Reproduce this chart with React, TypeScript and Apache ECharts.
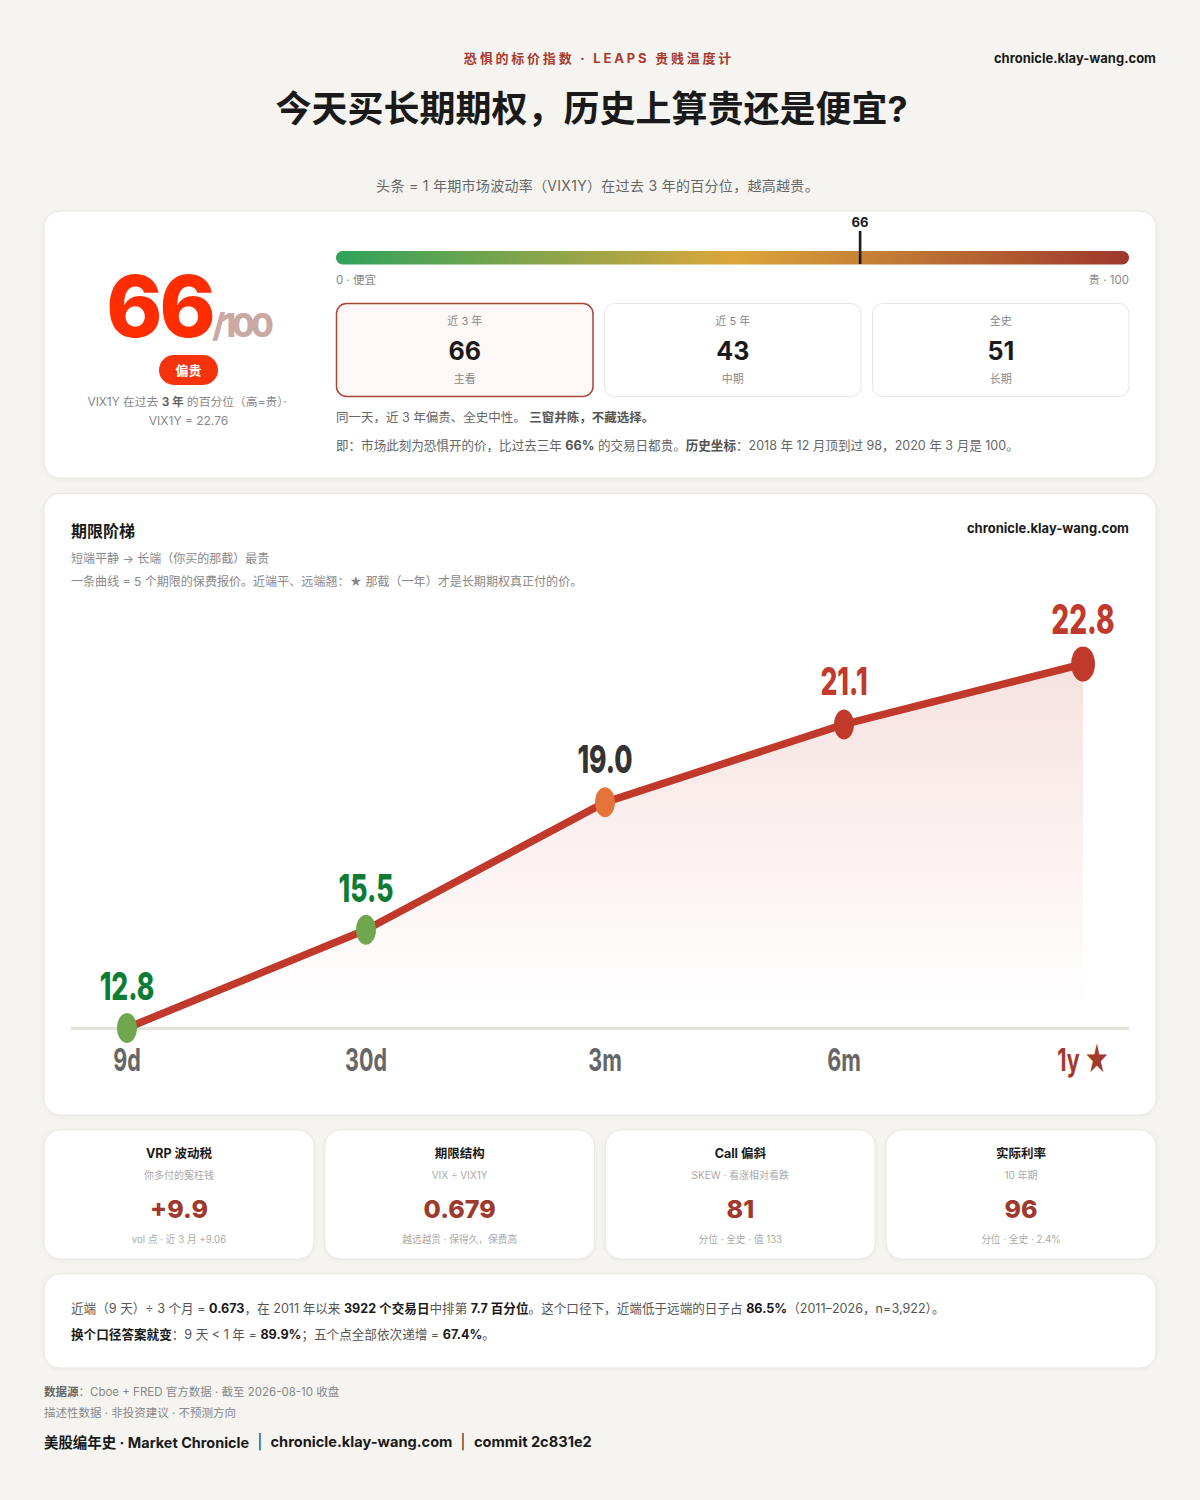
import React, { useEffect, useRef } from 'react';
import * as echarts from 'echarts';

const FONT = 'Inter, "Noto Sans CJK SC", sans-serif';

const tenors = ['9d', '30d', '3m', '6m', '1y ★'];
const quotes = [12.8, 15.5, 19.0, 21.14, 22.8];
const dotColors = ['#6fa64e', '#6fa64e', '#e5733a', '#c0392b', '#c0392b'];
const quoteColors = ['#0e7c32', '#0e7c32', '#333333', '#c0392b', '#c0392b'];
const tenorColors = ['#666666', '#666666', '#666666', '#666666', '#a33a2c'];

const windowNames = ['近 3 年', '近 5 年', '全史'];
const windowValues = ['66', '43', '51'];
const windowNotes = ['主看', '中期', '长期'];

const kpiTitles = ['VRP 波动税', '期限结构', 'Call 偏斜', '实际利率'];
const kpiSubs = ['你多付的冤枉钱', 'VIX ÷ VIX1Y', 'SKEW · 看涨相对看跌', '10 年期'];
const kpiValues = ['+9.9', '0.679', '81', '96'];
const kpiFoots = ['vol 点 · 近 3 月 +9.06', '越远越贵 · 保得久，保费高', '分位 · 全史 · 值 133', '分位 · 全史 · 2.4%'];

type TextOpts = { weight?: number; align?: string; rich?: any; z?: number };

const txt = (x: number, y: number, text: string, size: number, fill: string, opts: TextOpts = {}) => ({
  type: 'text',
  x,
  y,
  silent: true,
  z: opts.z ?? 5,
  style: {
    text,
    fontSize: size,
    fontWeight: opts.weight ?? 400,
    fontFamily: FONT,
    fill,
    textAlign: opts.align ?? 'center',
    textVerticalAlign: 'middle',
    rich: opts.rich,
  },
});

const card = (x: number, y: number, width: number, height: number) => ({
  type: 'rect',
  silent: true,
  z: 0,
  shape: { x, y, width, height, r: 16 },
  style: {
    fill: '#ffffff',
    stroke: '#e9e7e2',
    lineWidth: 1,
    shadowBlur: 4,
    shadowOffsetY: 1,
    shadowColor: 'rgba(0,0,0,0.05)',
  },
});

const bold = (size: number, fill: string) => ({
  b: { fontSize: size, fontWeight: 700, fontFamily: FONT, fill },
});

const buildGraphics = () => {
  const els: any[] = [
    // header
    txt(599, 58, '恐惧的标价指数 · LEAPS 贵贱温度计', 13, '#a93a2e', { weight: 700 }),
    txt(1156, 58, 'chronicle.klay-wang.com', 13, '#1a1a1a', { weight: 700, align: 'right' }),
    txt(591.5, 109, '今天买长期期权，历史上算贵还是便宜?', 36, '#1a1a1a', { weight: 700 }),
    txt(597.5, 185, '头条 = 1 年期市场波动率（VIX1Y）在过去 3 年的百分位，越高越贵。', 14, '#666666'),

    card(44, 211, 1112, 267),
    card(44, 493.5, 1112, 621.5),
    card(44, 1274, 1112, 94),

    // score block
    txt(159.5, 306, '66', 85, '#ff2d00', { weight: 800 }),
    txt(241, 324.5, '/100', 33, '#c9a9a1', { weight: 800 }),
    {
      type: 'rect',
      silent: true,
      z: 1,
      shape: { x: 159, y: 355, width: 59, height: 30, r: 15 },
      style: { fill: '#f5330c' },
    },
    txt(188.5, 369.5, '偏贵', 13, '#ffffff', { weight: 700 }),
    txt(188.5, 402, 'VIX1Y 在过去 {b|3 年}的百分位（高=贵）·', 11.8, '#888888', { rich: bold(11.8, '#666666') }),
    txt(188.5, 420, 'VIX1Y = 22.76', 12, '#888888'),

    // thermometer
    {
      type: 'rect',
      silent: true,
      z: 1,
      shape: { x: 336, y: 251, width: 793, height: 13.5, r: 6.5 },
      style: {
        fill: new echarts.graphic.LinearGradient(0, 0, 1, 0, [
          { offset: 0, color: '#2fa35b' },
          { offset: 0.5, color: '#dca63b' },
          { offset: 1, color: '#9c382c' },
        ]),
      },
    },
    {
      type: 'rect',
      silent: true,
      z: 2,
      shape: { x: 858.8, y: 231, width: 2.6, height: 33 },
      style: { fill: '#1a1a1a' },
    },
    txt(860, 222, '66', 13, '#1a1a1a', { weight: 700 }),
    txt(336, 280, '0 · 便宜', 11.5, '#888888', { align: 'left' }),
    txt(1129, 280, '贵 · 100', 11.5, '#888888', { align: 'right' }),

    // paragraphs under the windows
    txt(336, 417, '同一天，近 3 年偏贵、全史中性。 {b|三窗并陈，不藏选择。}', 12.5, '#666666', {
      align: 'left',
      rich: bold(12.5, '#555555'),
    }),
    txt(
      336,
      445,
      '即：市场此刻为恐惧开的价，比过去三年 {b|66%} 的交易日都贵。{b|历史坐标}：2018 年 12 月顶到过 98，2020 年 3 月是 100。',
      12.55,
      '#666666',
      { align: 'left', rich: bold(12.55, '#555555') },
    ),

    // ladder heading
    txt(71, 531, '期限阶梯', 16, '#1a1a1a', { weight: 700, align: 'left' }),
    txt(1129, 528, 'chronicle.klay-wang.com', 13, '#1a1a1a', { weight: 700, align: 'right' }),
    txt(71, 558, '短端平静 → 长端（你买的那截）最贵', 12, '#888888', { align: 'left' }),
    txt(71, 581, '一条曲线 = 5 个期限的保费报价。近端平、远端翘：★ 那截（一年）才是长期期权真正付的价。', 12.05, '#888888', {
      align: 'left',
    }),
    {
      type: 'rect',
      silent: true,
      z: 1,
      shape: { x: 71, y: 1027, width: 1058, height: 3 },
      style: { fill: '#e4e1d6' },
    },

    // note card
    txt(
      71,
      1308,
      '近端（9 天）÷ 3 个月 = {b|0.673}，在 2011 年以来 {b|3922 个交易日}中排第 {b|7.7 百分位}。这个口径下，近端低于远端的日子占 {b|86.5%}（2011–2026，n=3,922）。',
      12.6,
      '#555555',
      { align: 'left', rich: bold(12.6, '#1a1a1a') },
    ),
    txt(71, 1334, '{b|换个口径答案就变}：9 天 < 1 年 = {b|89.9%}；五个点全部依次递增 = {b|67.4%}。', 12.6, '#555555', {
      align: 'left',
      rich: bold(12.6, '#1a1a1a'),
    }),

    // footer
    txt(44, 1392, '{b|数据源}：Cboe + FRED 官方数据 · 截至 2026-08-10 收盘', 11.5, '#888888', {
      align: 'left',
      rich: bold(11.5, '#666666'),
    }),
    txt(44, 1413, '描述性数据 · 非投资建议 · 不预测方向', 11.5, '#888888', { align: 'left' }),
    txt(44, 1442, '美股编年史 · Market Chronicle', 14.45, '#1a1a1a', { weight: 700, align: 'left' }),
    txt(260, 1441, '|', 14.5, '#1a1a1a'),
    txt(270.5, 1442, 'chronicle.klay-wang.com', 14.6, '#1a1a1a', { weight: 700, align: 'left' }),
    txt(463, 1441, '|', 14.5, '#1a1a1a'),
    txt(474, 1442, 'commit 2c831e2', 14.6, '#1a1a1a', { weight: 700, align: 'left' }),
  ];

  windowNames.forEach((name, i) => {
    const x = 336.5 + i * 268;
    const main = i === 0;
    els.push({
      type: 'rect',
      silent: true,
      z: 1,
      shape: { x, y: 303.5, width: 256.5, height: 93, r: 10 },
      style: {
        fill: main ? '#fdf8f5' : '#ffffff',
        stroke: main ? '#a8463a' : '#e8e6e1',
        lineWidth: main ? 1.5 : 1,
      },
    });
    els.push(txt(x + 128.3, 321, name, 11, '#888888'));
    els.push(txt(x + 128.3, 351, windowValues[i], 25, '#1a1a1a', { weight: 700 }));
    els.push(txt(x + 128.3, 379, windowNotes[i], 11, '#888888'));
  });

  kpiTitles.forEach((title, i) => {
    const x = 44 + i * 280.67;
    els.push(card(x, 1130, 270, 129));
    const cx = x + 135;
    els.push(txt(cx, 1153, title, 12.5, '#1a1a1a', { weight: 700 }));
    els.push(txt(cx, 1175, kpiSubs[i], 10, '#aaaaaa'));
    els.push(txt(cx, 1209, kpiValues[i], 25, '#9e3a2c', { weight: 800 }));
    els.push(txt(cx, 1239, kpiFoots[i], 9.7, '#aaaaaa'));
  });

  return els;
};

// tall, squeezed text: the original drawing is stretched vertically
const STRETCH = 1.46;
const quoteGaps = [42, 42, 43, 43, 45];

const App: React.FC = () => {
  const chartRef = useRef<HTMLDivElement>(null);

  useEffect(() => {
    document.body.style.margin = '0';
    const chart = echarts.init(chartRef.current as HTMLDivElement, undefined, { renderer: 'svg' });

    const option: any = {
      animation: false,
      backgroundColor: '#f5f4f0',
      grid: { left: 127, width: 956, top: 664, height: 364 },
      xAxis: { type: 'category', data: tenors, boundaryGap: false, show: false },
      yAxis: { type: 'value', min: 12.8, max: 22.8, show: false },
      graphic: { elements: buildGraphics() },
      series: [
        {
          type: 'line',
          z: 3,
          silent: true,
          clip: false,
          data: quotes.map((value, i) => ({ value, itemStyle: { color: dotColors[i] } })),
          showAllSymbol: true,
          symbol: 'circle',
          symbolSize: (_v: number, p: any) => (p.dataIndex === quotes.length - 1 ? [24, 35] : [20, 30]),
          lineStyle: { color: '#c0392b', width: 7.5 },
          areaStyle: {
            color: {
              type: 'linear',
              x: 0,
              y: 0,
              x2: 0,
              y2: 1,
              colorStops: [
                { offset: 0, color: 'rgba(192,57,43,0.21)' },
                { offset: 0.95, color: 'rgba(192,57,43,0)' },
              ],
            },
          },
          label: { show: false },
        },
        {
          type: 'custom',
          z: 4,
          silent: true,
          clip: false,
          data: quotes.map((q, i) => [i, q]),
          renderItem: (params: any, api: any) => {
            const i = params.dataIndex;
            const p = api.coord([api.value(0), api.value(1)]);
            return {
              type: 'text',
              x: p[0],
              y: p[1] - quoteGaps[i],
              scaleY: STRETCH,
              style: {
                text: quotes[i].toFixed(1),
                fontSize: i === quotes.length - 1 ? 28 : 26.5,
                fontWeight: 800,
                fontFamily: FONT,
                fill: quoteColors[i],
                textAlign: 'center',
                textVerticalAlign: 'middle',
              },
            };
          },
        },
        {
          type: 'custom',
          z: 4,
          silent: true,
          clip: false,
          data: tenors.map((_t, i) => [i, 12.8]),
          renderItem: (params: any, api: any) => {
            const i = params.dataIndex;
            const p = api.coord([api.value(0), api.value(1)]);
            return {
              type: 'text',
              x: p[0],
              y: p[1] + 31,
              scaleY: STRETCH,
              style: {
                text: tenors[i].replace('★', '{s|★}'),
                fontSize: 21.5,
                fontWeight: 700,
                fontFamily: FONT,
                fill: tenorColors[i],
                textAlign: 'center',
                textVerticalAlign: 'middle',
                rich: {
                  s: { fontSize: 27, fontFamily: '"DejaVu Sans"', fontWeight: 700, fill: tenorColors[i] },
                },
              },
            };
          },
        },
      ],
    };
    chart.setOption(option);

    // zrender has no letter spacing, so it goes on the drawn svg text
    const tracked: [string, string, number][] = [
      ['恐惧的标价指数 · LEAPS 贵贱温度计', '13px', 2.8],
      ['头条 = 1 年期市场波动率（VIX1Y）在过去 3 年的百分位，越高越贵。', '14px', 0.3],
      ['66', '85px', -3],
      ['/100', '33px', -4],
    ];
    chartRef.current?.querySelectorAll('text').forEach((el) => {
      const css = el.getAttribute('style') || '';
      tracked.forEach(([text, size, px]) => {
        if (el.textContent === text && css.includes(size)) el.style.letterSpacing = `${px}px`;
      });
    });

    return () => {
      chart.dispose();
    };
  }, []);

  return <div ref={chartRef} style={{ width: 1200, height: 1500 }} />;
};

export default App;
